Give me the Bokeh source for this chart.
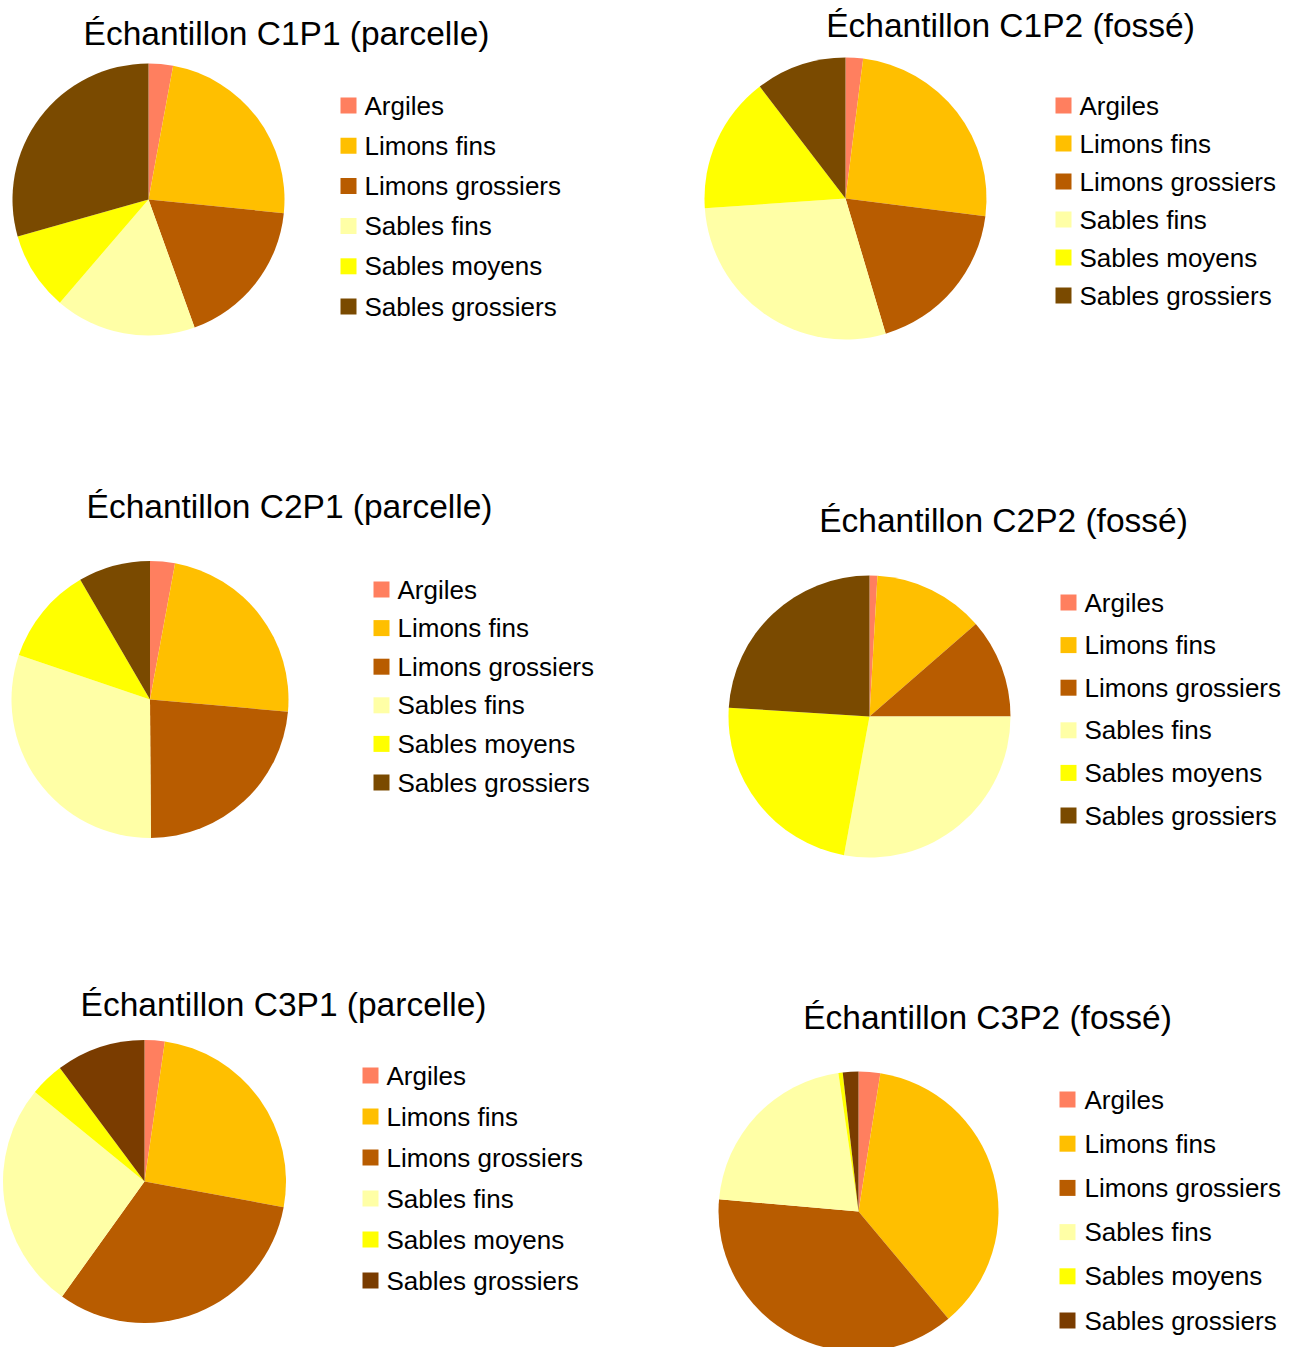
import numpy as np
from bokeh.plotting import figure
from bokeh.models import Range1d, ColumnDataSource
from bokeh.core.properties import value
from bokeh.embed import file_html
from bokeh.resources import INLINE

# ---------------- data ----------------
categories = ["Argiles", "Limons fins", "Limons grossiers", "Sables fins",
              "Sables moyens", "Sables grossiers"]

titles = ["Échantillon C1P1 (parcelle)", "Échantillon C1P2 (fossé)",
          "Échantillon C2P1 (parcelle)", "Échantillon C2P2 (fossé)",
          "Échantillon C3P1 (parcelle)", "Échantillon C3P2 (fossé)"]

c1p1 = [2.9, 23.7, 17.9, 16.8, 9.3, 29.4]
c1p2 = [2.0, 25.0, 18.4, 28.5, 15.7, 10.4]
c2p1 = [2.9, 23.5, 23.5, 30.3, 11.4, 8.4]
c2p2 = [0.9, 12.7, 11.4, 27.9, 23.1, 24.0]
c3p1 = [2.3, 25.6, 32.0, 26.0, 3.9, 10.2]
c3p2 = [2.5, 36.4, 37.5, 21.3, 0.5, 1.8]

series = [c1p1, c1p2, c2p1, c2p2, c3p1, c3p2]

# ---------------- styles / layout ----------------
colors_a = ["#FF7F5F", "#FFBF00", "#B85C00", "#FFFFA6", "#FFFF00", "#7A4A00"]
colors_b = ["#FF7F5F", "#FFBF00", "#B85C00", "#FFFFA6", "#FFFF00", "#7A3C00"]
palettes = [colors_a, colors_a, colors_a, colors_a, colors_b, colors_b]

# (pie cx, pie cy, radius, title cx, title baseline, legend sq x, legend text x, legend y0, legend step)
layout = [
    (148, 199, 136, 286, 33, 340, 364, 105, 40.2),
    (845, 198, 141, 1010, 25, 1055, 1079, 105, 38.0),
    (149.5, 699, 138.5, 289, 506, 373, 397, 589, 38.6),
    (869, 716, 141, 1003, 520, 1060, 1084, 602, 42.6),
    (144, 1181, 141.5, 283, 1004, 362, 386, 1075, 41.0),
    (858, 1211, 140, 987, 1017, 1059, 1084, 1099, 44.2),
]

W, H = 1296, 1347
p = figure(width=W, height=H, output_backend="svg", toolbar_location=None,
           x_range=Range1d(0, W), y_range=Range1d(-H, 0),
           x_axis_location=None, y_axis_location=None, min_border=0)
p.grid.visible = False
p.outline_line_color = None
p.background_fill_color = "white"
p.border_fill_color = "white"

FONT = value("Liberation Sans")

for vals, title, pal, (cx, cy, r, tx, ty, lsx, ltx, ly0, lstep) in zip(series, titles, palettes, layout):
    v = np.array(vals, dtype=float)
    frac = v / v.sum()
    cum = np.concatenate([[0.0], np.cumsum(frac)])
    start = np.pi / 2 - 2 * np.pi * cum[1:]
    end = np.pi / 2 - 2 * np.pi * cum[:-1]
    src = ColumnDataSource(dict(x=[cx] * len(v), y=[-cy] * len(v), start=start, end=end,
                                color=pal, cat=categories))
    p.wedge(x="x", y="y", radius=r, start_angle="start", end_angle="end",
            direction="anticlock", fill_color="color", line_color=None, source=src)

    # title
    p.text(x=[tx], y=[-ty], text=[title], text_font=FONT, text_font_size=value("33.5px"),
           text_align="center", text_baseline="alphabetic", text_color="black")

    # legend
    ys = [-(ly0 + i * lstep) for i in range(len(categories))]
    lsrc = ColumnDataSource(dict(x=[lsx + 8] * len(categories), tx=[ltx] * len(categories),
                                 y=ys, color=pal, cat=categories))
    p.rect(x="x", y="y", width=16, height=16, fill_color="color", line_color=None, source=lsrc)
    p.text(x="tx", y="y", text="cat", text_font=FONT, text_font_size=value("26px"),
           text_align="left", text_baseline="middle", text_color="black", source=lsrc)

open("out.html", "w").write(file_html(p, INLINE))
